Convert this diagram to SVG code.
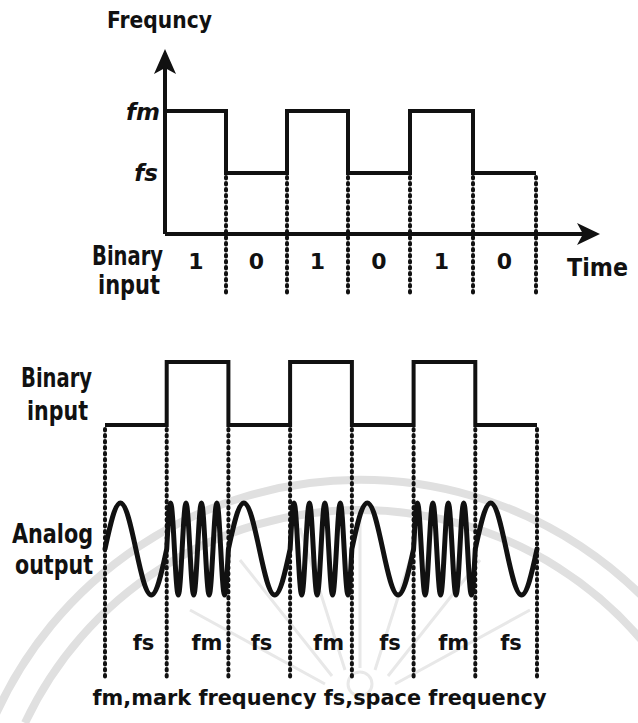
<svg xmlns="http://www.w3.org/2000/svg" width="638" height="723" viewBox="0 0 638 723">
<style>
.ln{fill:none;stroke:#111;stroke-width:4;stroke-linejoin:miter}
.dot{fill:none;stroke:#111;stroke-width:4;stroke-linecap:round;stroke-dasharray:1.5 4.5}
.wave{fill:none;stroke:#111;stroke-width:5;stroke-linejoin:round;stroke-linecap:round}
.wm{fill:none;stroke:#e0e0e0;stroke-width:8}
.wr{fill:none;stroke:#e8e8e8;stroke-width:3}
text{font-family:"DejaVu Sans","Liberation Sans",sans-serif;font-weight:bold;fill:#111}
.lab{font-size:26px}
.dig{font-size:22px;text-anchor:middle}
.it{font-size:23px;font-style:italic;text-anchor:end}
.bl{font-size:21px;text-anchor:middle}
</style>
<rect width="638" height="723" fill="#fff"/>
<g id="watermark">
<path class="wm" d="M-8,723 A400,400 0 0 1 728,723"/>
<path class="wm" d="M25,723 A370,370 0 0 1 695,723"/>
<circle class="wr" cx="360" cy="684" r="12"/>
<path class="wr" d="M360,668 V520 M345,670 L300,528 M375,670 L420,528 M332,676 L240,560 M388,676 L480,560 M325,684 L190,610 M395,684 L530,610"/>
</g>
<g id="top-chart">
<g id="axes">
<path class="ln" d="M165,234 V62 M165,234 H584"/>
<polygon points="165,49 176,74 165,68 154,74" fill="#111"/>
<polygon points="600,234 577,223 583,234 577,245" fill="#111"/>
</g>
<path id="freq-signal" class="ln" d="M165,111 H226 V173 H287 V111 H348 V173 H410 V111 H473 V173 H536"/>
<g id="top-dotted">
<path class="dot" d="M226,177 V296 M287,177 V296 M348,177 V296 M410,177 V296 M473,177 V296 M536,177 V296"/>
</g>
<text x="159.5" y="28" font-size="23" text-anchor="middle" textLength="105" lengthAdjust="spacingAndGlyphs">Frequncy</text>
<text class="it" x="160" y="120">fm</text>
<text class="it" x="158" y="181">fs</text>
<text class="lab" x="92" y="265" textLength="71" lengthAdjust="spacingAndGlyphs">Binary</text>
<text class="lab" x="98" y="294" textLength="62" lengthAdjust="spacingAndGlyphs">input</text>
<text class="dig" x="196" y="269">1</text>
<text class="dig" x="256.5" y="269">0</text>
<text class="dig" x="317.5" y="269">1</text>
<text class="dig" x="379" y="269">0</text>
<text class="dig" x="441.5" y="269">1</text>
<text class="dig" x="504.5" y="269">0</text>
<text x="567" y="276" font-size="25" textLength="61" lengthAdjust="spacingAndGlyphs">Time</text>
</g>
<g id="bottom-chart">
<path id="binary-signal" class="ln" d="M105,425 H166.7 V362 H228.4 V425 H290.1 V362 H351.9 V425 H413.6 V362 H475.3 V425 H537"/>
<g id="bottom-dotted">
<path class="dot" d="M105,429 V677 M166.7,429 V677 M228.4,429 V677 M290.1,429 V677 M351.9,429 V677 M413.6,429 V677 M475.3,429 V677 M537,429 V677"/>
</g>
<path id="analog-signal" class="wave" d="M105,549
c5.03,-23.6 9.87,-46 15.43,-46 c5.56,0 10.4,22.4 15.43,46 c5.03,23.6 9.87,46 15.43,46 c5.56,0 10.4,-22.4 15.43,-46
c1.26,-23.6 2.47,-46 3.857,-46 c1.39,0 2.6,22.4 3.857,46 c1.26,23.6 2.47,46 3.857,46 c1.39,0 2.6,-22.4 3.857,-46
c1.26,-23.6 2.47,-46 3.857,-46 c1.39,0 2.6,22.4 3.857,46 c1.26,23.6 2.47,46 3.857,46 c1.39,0 2.6,-22.4 3.857,-46
c1.26,-23.6 2.47,-46 3.857,-46 c1.39,0 2.6,22.4 3.857,46 c1.26,23.6 2.47,46 3.857,46 c1.39,0 2.6,-22.4 3.857,-46
c1.26,-23.6 2.47,-46 3.857,-46 c1.39,0 2.6,22.4 3.857,46 c1.26,23.6 2.47,46 3.857,46 c1.39,0 2.6,-22.4 3.857,-46
c5.03,-23.6 9.87,-46 15.43,-46 c5.56,0 10.4,22.4 15.43,46 c5.03,23.6 9.87,46 15.43,46 c5.56,0 10.4,-22.4 15.43,-46
c1.26,-23.6 2.47,-46 3.857,-46 c1.39,0 2.6,22.4 3.857,46 c1.26,23.6 2.47,46 3.857,46 c1.39,0 2.6,-22.4 3.857,-46
c1.26,-23.6 2.47,-46 3.857,-46 c1.39,0 2.6,22.4 3.857,46 c1.26,23.6 2.47,46 3.857,46 c1.39,0 2.6,-22.4 3.857,-46
c1.26,-23.6 2.47,-46 3.857,-46 c1.39,0 2.6,22.4 3.857,46 c1.26,23.6 2.47,46 3.857,46 c1.39,0 2.6,-22.4 3.857,-46
c1.26,-23.6 2.47,-46 3.857,-46 c1.39,0 2.6,22.4 3.857,46 c1.26,23.6 2.47,46 3.857,46 c1.39,0 2.6,-22.4 3.857,-46
c5.03,-23.6 9.87,-46 15.43,-46 c5.56,0 10.4,22.4 15.43,46 c5.03,23.6 9.87,46 15.43,46 c5.56,0 10.4,-22.4 15.43,-46
c1.26,-23.6 2.47,-46 3.857,-46 c1.39,0 2.6,22.4 3.857,46 c1.26,23.6 2.47,46 3.857,46 c1.39,0 2.6,-22.4 3.857,-46
c1.26,-23.6 2.47,-46 3.857,-46 c1.39,0 2.6,22.4 3.857,46 c1.26,23.6 2.47,46 3.857,46 c1.39,0 2.6,-22.4 3.857,-46
c1.26,-23.6 2.47,-46 3.857,-46 c1.39,0 2.6,22.4 3.857,46 c1.26,23.6 2.47,46 3.857,46 c1.39,0 2.6,-22.4 3.857,-46
c1.26,-23.6 2.47,-46 3.857,-46 c1.39,0 2.6,22.4 3.857,46 c1.26,23.6 2.47,46 3.857,46 c1.39,0 2.6,-22.4 3.857,-46
c5.03,-23.6 9.87,-46 15.43,-46 c5.56,0 10.4,22.4 15.43,46 c5.03,23.6 9.87,46 15.43,46 c5.56,0 10.4,-22.4 15.43,-46"/>
<text class="lab" x="21" y="387" textLength="71" lengthAdjust="spacingAndGlyphs">Binary</text>
<text class="lab" x="27" y="420" textLength="61" lengthAdjust="spacingAndGlyphs">input</text>
<text class="lab" x="12" y="543" textLength="81" lengthAdjust="spacingAndGlyphs">Analog</text>
<text class="lab" x="15" y="574" textLength="78" lengthAdjust="spacingAndGlyphs">output</text>
<text class="bl" x="143.5" y="650">fs</text>
<text class="bl" x="207" y="650">fm</text>
<text class="bl" x="261.5" y="650">fs</text>
<text class="bl" x="328.6" y="650">fm</text>
<text class="bl" x="390" y="650">fs</text>
<text class="bl" x="453.7" y="650">fm</text>
<text class="bl" x="511" y="650">fs</text>
<text x="92.5" y="705" font-size="21" textLength="454" lengthAdjust="spacingAndGlyphs">fm,mark frequency fs,space frequency</text>
</g>
</svg>
